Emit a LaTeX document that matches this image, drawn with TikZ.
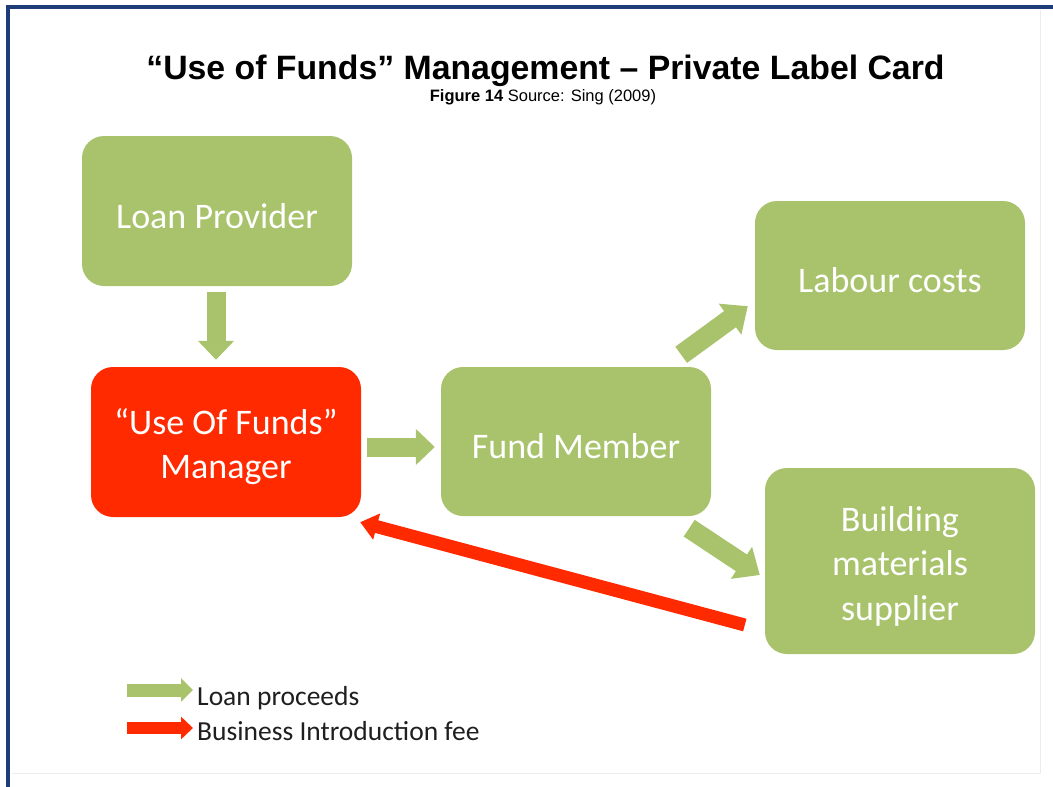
\documentclass[tikz,border=0pt]{standalone}
\usepackage{fontspec}
\setmainfont{Carlito}
\newfontfamily\titlefont{Liberation Sans}
\usetikzlibrary{arrows.meta,calc}
\definecolor{boxgreen}{HTML}{A8C36B}
\definecolor{boxred}{HTML}{FF2A00}
\definecolor{framenavy}{HTML}{1D3C78}
\newcommand\myboxlift{\rule{0pt}{35pt}}
\begin{document}
\begin{tikzpicture}[x=1pt,y=-1pt,
  box/.style={rounded corners=22pt, minimum width=270pt, inner sep=0pt, align=center,
    text=white, font=\fontsize{36}{44.5}\selectfont},
  greenbox/.style={box, fill=boxgreen},
  redbox/.style={box, fill=boxred},
  garrow/.style={draw=boxgreen, line width=19pt, -{Triangle[width=35pt,length=19pt]}},
  gdiag/.style={draw=boxgreen, line width=20pt, -{Triangle[width=37pt,length=22pt]}},
  rarrow/.style={draw=boxred, line width=13pt, -{Triangle[width=26pt,length=17pt]}},
  glegend/.style={draw=boxgreen, line width=13pt, -{Triangle[width=23pt,length=12pt]}},
  rlegend/.style={draw=boxred, line width=12pt, -{Triangle[width=22pt,length=12pt]}},
  legendtext/.style={anchor=base west, inner sep=0pt, text=black!88, font=\fontsize{27.5}{33}\selectfont}
]
\useasboundingbox (0,0) rectangle (1053,787);
\fill[white] (0,0) rectangle (1053,787);
% faint inner frame
\draw[black!7, line width=1pt] (12,773) -- (1040,773) -- (1040,10);
% frame
\draw[framenavy, line width=4pt] (8,800) -- (8,7) -- (1070,7);

% title
\node[anchor=base, inner sep=0pt, font=\titlefont\bfseries\fontsize{33.8}{40}\selectfont] (title) at (545.5,79) {“Use of Funds” Management – Private Label Card};
\node[anchor=base, inner sep=0pt, font=\titlefont\fontsize{16.5}{20}\selectfont] (sub) at (543,101) {\textbf{Figure 14} Source: Sing (2009)};

% boxes
\node[greenbox, minimum height=150pt] (lp) at (217,211) {\myboxlift Loan Provider};
\node[redbox, minimum height=150pt] (mgr) at (226,442) {\myboxlift“Use Of Funds”\\Manager};
\node[greenbox, minimum height=149pt] (fm) at (576,441.5) {\myboxlift Fund Member};
\node[greenbox, minimum height=149pt] (lc) at (890,275.5) {\myboxlift Labour costs};
\node[greenbox, minimum height=186pt] (bm) at (900,561) {\myboxlift Building\\materials\\supplier};

% connectors
\draw[garrow] ($(lp.south)+(-1,6)$) -- ($(mgr.north)+(-10,-7)$);
\draw[garrow] ($(mgr.east)+(6,5)$) -- ($(fm.west)+(-6,5.5)$);
\draw[gdiag] ($(fm.north east)+(-30,-12)$) -- ($(lc.south west)+(-7,-44)$);
\draw[gdiag] ($(fm.south east)+(-22,12)$) -- ($(bm.west)+(-5,14)$);
\draw[rarrow] ($(bm.west)+(-20,64)$) -- ($(mgr.south east)+(-1,5)$);

% legend
\node[legendtext] (lt1) at (197,705) {Loan proceeds};
\node[legendtext] (lt2) at (197,740) {Business Introduction fee};
\draw[glegend] ($(lt1.base west)+(-70,-15)$) -- ($(lt1.base west)+(-4,-15)$);
\draw[rlegend] ($(lt2.base west)+(-70,-12)$) -- ($(lt2.base west)+(-4,-12)$);
\end{tikzpicture}
\end{document}
